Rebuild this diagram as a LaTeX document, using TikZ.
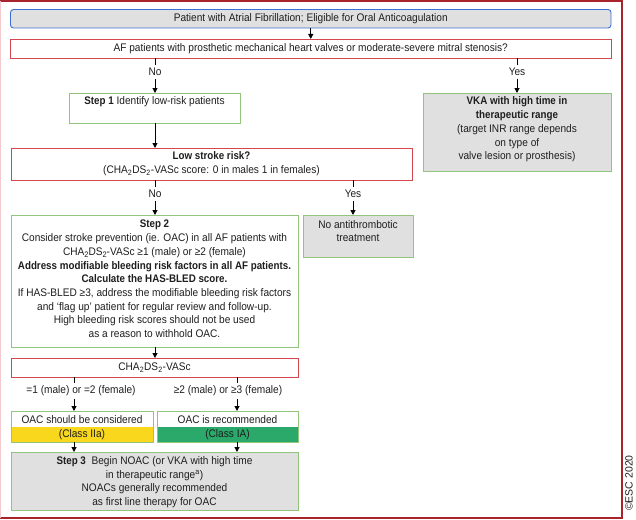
\documentclass[tikz,border=0pt]{standalone}
\usepackage{fontspec}
\setmainfont{Liberation Sans}[FakeStretch=0.92, BoldFeatures={FakeStretch=0.89}]
\newfontfamily\escfont{Liberation Sans}
\usetikzlibrary{shapes.misc,arrows.meta}
\definecolor{framered}{HTML}{A8232B}
\definecolor{framepink}{HTML}{F2C9CC}
\definecolor{boxred}{HTML}{D4474F}
\definecolor{boxblue}{HTML}{3D6FD1}
\definecolor{boxgreen}{HTML}{93C47D}
\definecolor{boxgray}{HTML}{E0E0E0}
\definecolor{classyellow}{HTML}{F9D71C}
\definecolor{classgreen}{HTML}{2AA96A}
\definecolor{txt}{HTML}{1E1E1E}
\newcommand\subtwo{\raisebox{-0.35ex}{\fontsize{8}{8}\selectfont 2}}
\begin{document}
\begin{tikzpicture}[x=1pt,y=-1pt,
  every node/.style={inner sep=0pt, outer sep=0pt, text=txt, font=\fontsize{11}{13.7}\selectfont},
  txtnode/.style={align=center},
  redbox/.style={chamfered rectangle, chamfered rectangle xsep=3pt, chamfered rectangle ysep=3pt, draw=boxred, line width=0.9pt, fill=white},
  bluebox/.style={rectangle, rounded corners=3pt, draw=boxblue, line width=0.9pt, fill=boxgray},
  greenbox/.style={rectangle, draw=boxgreen, line width=1pt, fill=white},
  graybox/.style={rectangle, draw=boxgreen, line width=1pt, fill=boxgray},
  lbl/.style={inner sep=3pt},
  tick/.style={line width=1pt, black},
  arr/.style={line width=1pt, black, -{Triangle[length=5pt,width=5pt]}},
]
\useasboundingbox (0,0) rectangle (636,519);
% frame
\draw[framered, line width=2pt] (0,1) -- (622,1) -- (622,518) -- (0,518);
\draw[framepink, line width=1.2pt] (0.6,1) -- (0.6,518);
\node[rotate=90, font=\escfont\fontsize{10.5}{11}\selectfont] (esc) at (629,483) {©ESC 2020};

% boxes
\node[bluebox, minimum width=600.5pt, minimum height=18.5pt] (top) at (310.75,18.75) {};
\node[redbox, minimum width=600.5pt, minimum height=19pt] (q1) at (310.75,48.5) {};
\node[greenbox, minimum width=170.5pt, minimum height=30pt] (s1) at (154.75,108) {};
\node[graybox, minimum width=188pt, minimum height=78pt] (vka) at (517,132) {};
\node[redbox, minimum width=401pt, minimum height=32pt] (low) at (211.5,164) {};
\node[graybox, minimum width=110pt, minimum height=42pt] (noa) at (358,236) {};
\node[greenbox, minimum width=287pt, minimum height=132pt] (s2) at (154.5,281) {};
\node[redbox, minimum width=287pt, minimum height=19pt] (cha) at (154.5,367.5) {};
\node[greenbox, minimum width=142pt, minimum height=31pt,
  path picture={\fill[classyellow] (path picture bounding box.west) rectangle (path picture bounding box.south east);}] (oacl) at (82,426.5) {};
\node[greenbox, minimum width=141pt, minimum height=31pt,
  path picture={\fill[classgreen] (path picture bounding box.west) rectangle (path picture bounding box.south east);}] (oacr) at (227.5,426.5) {};
\node[graybox, minimum width=287pt, minimum height=58pt] (s3) at (154.5,481) {};

% texts
\node[txtnode] (ttop) at (310.75,18.5) {Patient with Atrial Fibrillation; Eligible for Oral Anticoagulation};
\node[txtnode] (tq1) at (310.75,48.5) {AF patients with prosthetic mechanical heart valves or moderate-severe mitral stenosis?};
\node[txtnode] (ts1) at (154.5,102) {\textbf{Step 1} Identify low-risk patients};
\node[txtnode] (tvka) at (517,129.5) {\textbf{VKA with high time in}\\\textbf{therapeutic range}\\(target INR range depends\\on type of\\valve lesion or prosthesis)};
\node[txtnode] (tlow) at (211.5,164) {\textbf{Low stroke risk?}\\(CHA\textsubscript{2}DS\textsubscript{2}-VASc score: 0 in males 1 in females)};
\node[txtnode] (tnoa) at (358,231) {No antithrombotic\\treatment};
\node[txtnode] (ts2) at (154.5,279) {\textbf{Step 2}\\Consider stroke prevention (ie. OAC) in all AF patients with\\CHA\subtwo DS\subtwo-VASc ≥1 (male) or ≥2 (female)\\\textbf{Address modifiable bleeding risk factors in all AF patients.}\\\textbf{Calculate the HAS-BLED score.}\\If HAS-BLED ≥3, address the modifiable bleeding risk factors\\and ‘flag up’ patient for regular review and follow-up.\\High bleeding risk scores should not be used\\as a reason to withhold OAC.};
\node[txtnode] (tcha) at (154.5,367.5) {CHA\textsubscript{2}DS\textsubscript{2}-VASc};
\node[txtnode] (toacl1) at (82,419.5) {OAC should be considered};
\node[txtnode] (toacl2) at (82,434.5) {(Class IIa)};
\node[txtnode] (toacr1) at (227.5,419.5) {OAC is recommended};
\node[txtnode] (toacr2) at (227.5,434.5) {(Class IA)};
\node[txtnode] (ts3) at (154.5,482) {\textbf{Step 3}\ \ Begin NOAC (or VKA with high time\\in therapeutic range\textsuperscript{a})\\NOACs generally recommended\\as first line therapy for OAC};

% branch labels
\node[lbl] (no1) at (155,72) {No};
\node[lbl] (yes1) at (517,72) {Yes};
\node[lbl] (no2) at (155,194) {No};
\node[lbl] (yes2) at (353,194) {Yes};
\node[lbl] (bl) at (81,391) {=1 (male) or =2 (female)};
\node[lbl] (br) at (228,391) {≥2 (male) or ≥3 (female)};
\coordinate (bla) at (74,391);
\coordinate (bra) at (237,391);

% connectors
\draw[arr] (top.south) -- (q1.north);
\draw[tick] (q1.south -| no1) -- (no1.north);
\draw[arr] (no1.south) -- (s1.north -| no1);
\draw[tick] (q1.south -| yes1) -- (yes1.north);
\draw[arr] (yes1.south) -- (vka.north -| yes1);
\draw[arr] (s1.south -| no1) -- (low.north -| no1);
\draw[tick] (low.south -| no2) -- (no2.north);
\draw[arr] (no2.south) -- (s2.north -| no2);
\draw[tick] (low.south -| yes2) -- (yes2.north);
\draw[arr] (yes2.south) -- (noa.north -| yes2);
\draw[arr] (s2.south -| no2) -- (cha.north -| no2);
\draw[tick] (cha.south -| bla) -- (bl.north -| bla);
\draw[arr] (bl.south -| bla) -- (oacl.north -| bla);
\draw[tick] (cha.south -| bra) -- (br.north -| bra);
\draw[arr] (br.south -| bra) -- (oacr.north -| bra);
\draw[arr] (oacl.south -| bla) -- (s3.north -| bla);
\draw[arr] (oacr.south -| bra) -- (s3.north -| bra);
\end{tikzpicture}
\end{document}
